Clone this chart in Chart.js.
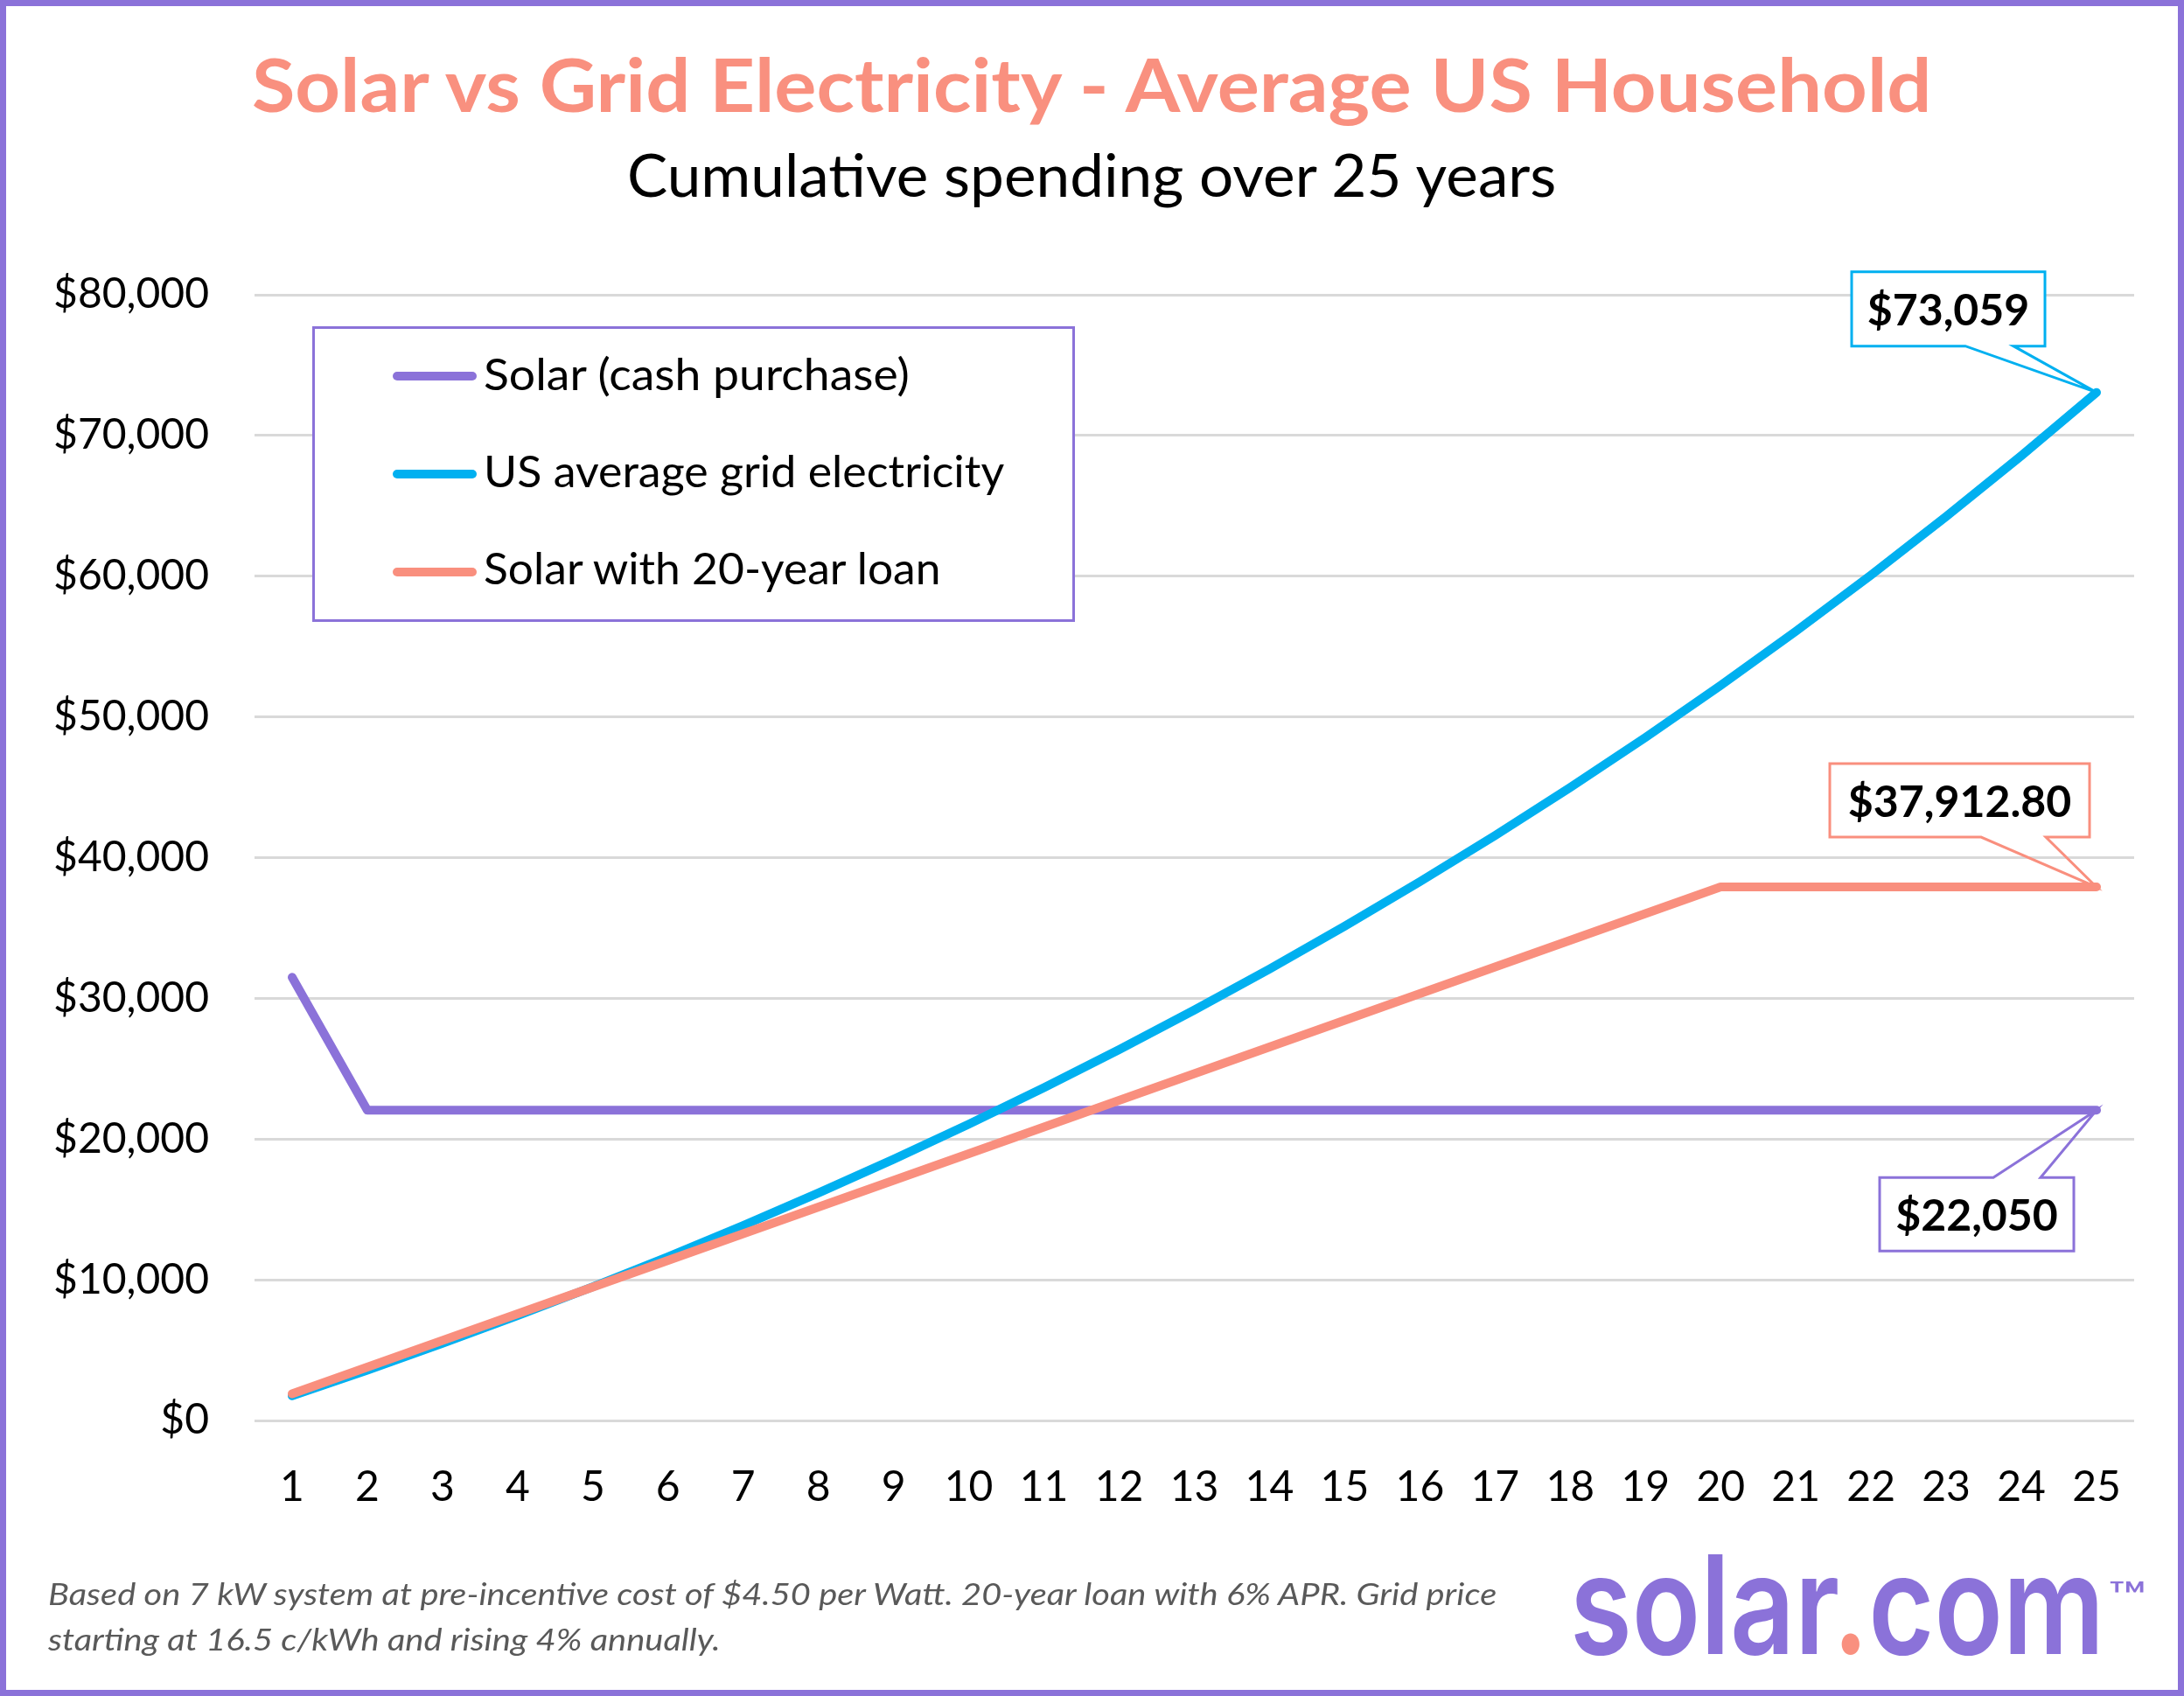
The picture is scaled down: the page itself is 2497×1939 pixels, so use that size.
<!DOCTYPE html>
<html>
<head>
<meta charset="utf-8">
<title>Solar vs Grid Electricity - Average US Household</title>
<script src="https://cdn.jsdelivr.net/npm/chart.js@4.4.1/dist/chart.umd.min.js"></script>
<style>
  html, body { margin: 0; padding: 0; background: #fff; }
  #page { position: relative; width: 2497px; height: 1939px; overflow: hidden; background: #fff; font-family: Lato, "Open Sans", sans-serif; }
  #chart { position: absolute; left: 0; top: 0; }
  #frame { position: absolute; left: 0; top: 0; width: 2497px; height: 1939px; box-sizing: border-box; border: 7px solid #8B72D9; pointer-events: none; }
  .txt { position: absolute; left: 0; top: 0; white-space: nowrap; line-height: 1.2; transform-origin: 0 0; }
  #legendBox { position: absolute; left: 357px; top: 373px; width: 872px; height: 338px; box-sizing: border-box; border: 3px solid #8B72D9; background: #fff; }
  .swatch { position: absolute; left: 449px; width: 96px; height: 10px; border-radius: 5px; }
</style>
</head>
<body>
<div id="page">
  <canvas id="chart" width="2497" height="1939"></canvas>
  <div id="legendBox"></div>
  <div class="txt" id="title" style="font-weight:700;font-size:85px;color:#F9907F;">Solar vs Grid Electricity - Average US Household</div>
  <div class="txt" id="subtitle" style="font-size:67px;color:#000;">Cumulative spending over 25 years</div>
  <div class="txt" id="note1" style="font-style:italic;font-size:35px;color:#595959;">Based on 7 kW system at pre-incentive cost of $4.50 per Watt. 20-year loan with 6% APR. Grid price</div>
  <div class="txt" id="note2" style="font-style:italic;font-size:35px;color:#595959;">starting at 16.5 c/kWh and rising 4% annually.</div>
  <div class="txt" id="logo" style="font-family:Inter, Roboto, sans-serif;font-weight:600;font-size:157px;color:#8B72D9;">solar<span style="color:#F9907F;">.</span>com</div>
  <div class="txt" id="tm" style="font-family:Inter, Roboto, sans-serif;font-weight:500;font-size:48px;color:#8B72D9;">™</div>
  <div id="frame"></div>
</div>
<script>
// --- data ---
const years = ['1', '2', '3', '4', '5', '6', '7', '8', '9', '10', '11', '12', '13',
               '14', '15', '16', '17', '18', '19', '20', '21', '22', '23', '24', '25'];

const seriesNames = ['Solar (cash purchase)', 'US average grid electricity', 'Solar with 20-year loan'];

// cash purchase: full price in year 1, after tax credit from year 2
const solarCash = [31500, 22050, 22050, 22050, 22050, 22050, 22050, 22050, 22050, 22050,
                   22050, 22050, 22050, 22050, 22050, 22050, 22050, 22050, 22050, 22050,
                   22050, 22050, 22050, 22050, 22050];

const gridCost = [1754, 3579, 5476, 7449, 9502, 11636, 13856, 16164, 18565, 21062,
                  23659, 26360, 29168, 32089, 35127, 38287, 41572, 44989, 48543, 52239,
                  56083, 60081, 64238, 68562, 73059];

const solarLoan = [1895.64, 3791.28, 5686.92, 7582.56, 9478.20, 11373.84, 13269.48, 15165.12,
                   17060.76, 18956.40, 20852.04, 22747.68, 24643.32, 26538.96, 28434.60,
                   30330.24, 32225.88, 34121.52, 36017.16, 37912.80, 37912.80, 37912.80,
                   37912.80, 37912.80, 37912.80];

const yMin = 0, yMax = 80000, yStep = 10000;

const colors = ['#8B72D9', '#00B0F0', '#F98F7E'];

// callouts at the last point of each series: box and tail offsets from that point
const callouts = [
    { dataset: 1, box: [-280, -138, -59, -53], tail: [-150, -95], side: 'bottom', decimals: 0 },
    { dataset: 2, box: [-305, -141, -8, -57], tail: [-132, -58], side: 'bottom', decimals: 2 },
    { dataset: 0, box: [-248, 77, -26, 161], tail: [-118, -64], side: 'top', decimals: 0 }
];

function money(v, decimals) {
    return '$' + v.toLocaleString('en-US', { minimumFractionDigits: decimals, maximumFractionDigits: decimals });
}

const calloutPlugin = {
    id: 'callouts',
    afterDatasetsDraw(chart) {
        const ctx = chart.ctx;
        const xs = chart.scales.x, ys = chart.scales.y;
        callouts.forEach(c => {
            const ds = chart.data.datasets[c.dataset];
            const i = ds.data.length - 1;
            const px = xs.getPixelForValue(i);
            const py = ys.getPixelForValue(ds.data[i]);
            const l = px + c.box[0], t = py + c.box[1], r = px + c.box[2], b = py + c.box[3];
            const t1 = px + c.tail[0], t2 = px + c.tail[1];

            ctx.save();
            ctx.fillStyle = '#fff';
            ctx.fillRect(l, t, r - l, b - t);

            ctx.beginPath();
            if (c.side === 'bottom') {
                ctx.moveTo(l, t);
                ctx.lineTo(r, t);
                ctx.lineTo(r, b);
                ctx.lineTo(t2, b);
                ctx.lineTo(px, py);
                ctx.lineTo(t1, b);
                ctx.lineTo(l, b);
            } else {
                ctx.moveTo(l, t);
                ctx.lineTo(t1, t);
                ctx.lineTo(px, py);
                ctx.lineTo(t2, t);
                ctx.lineTo(r, t);
                ctx.lineTo(r, b);
                ctx.lineTo(l, b);
            }
            ctx.closePath();
            ctx.strokeStyle = ds.borderColor;
            ctx.lineWidth = 3;
            ctx.lineJoin = 'miter';
            ctx.stroke();

            ctx.fillStyle = '#000';
            ctx.font = 'bold 50px Lato, sans-serif';
            ctx.textAlign = 'center';
            ctx.textBaseline = 'alphabetic';
            ctx.fillText(money(ds.data[i], c.decimals), (l + r) / 2, t + 61);
            ctx.restore();
        });
    }
};

const seriesData = [solarCash, gridCost, solarLoan];
const drawOrder = [3, 2, 1];

const chart = new Chart(document.getElementById('chart'), {
    type: 'line',
    data: {
        labels: years,
        datasets: seriesData.map((d, k) => ({
            label: seriesNames[k],
            data: d,
            borderColor: colors[k],
            backgroundColor: colors[k],
            borderWidth: 10,
            borderCapStyle: 'round',
            borderJoinStyle: 'round',
            pointRadius: 0,
            tension: 0,
            fill: false,
            order: drawOrder[k]
        }))
    },
    options: {
        responsive: false,
        devicePixelRatio: 1,
        animation: false,
        layout: { padding: { left: 0, top: 337, right: 57, bottom: 195 } },
        plugins: {
            legend: { display: false },
            title: { display: false },
            tooltip: { enabled: false }
        },
        scales: {
            x: {
                type: 'category',
                offset: true,
                grid: { display: false },
                border: { display: false },
                ticks: { color: '#000', font: { family: 'Lato', size: 48 }, padding: 40, maxRotation: 0, autoSkip: false },
                afterFit: s => { s.height = 120; }
            },
            y: {
                min: yMin,
                max: yMax,
                grid: { color: '#D9D9D9', lineWidth: 3, drawTicks: false },
                border: { display: false },
                ticks: {
                    stepSize: yStep,
                    color: '#000',
                    padding: 52,
                    font: { family: 'Lato', size: 48 },
                    callback: v => money(v, 0)
                },
                afterFit: s => { s.width = 291; }
            }
        }
    },
    plugins: [calloutPlugin]
});

// legend built from the chart's datasets
const page = document.getElementById('page');
const legendRows = [430, 542, 654];
const legendBase = [446, 557, 668];
const legendWidths = [487, 595, 523];
const textSpecs = [
    ['title', 288, 1920, 128],
    ['subtitle', 717, 1062, 225],
    ['note1', 55, 1656, 1835],
    ['note2', 55, 769, 1887],
    ['logo', 1795, 611, 1891],
    ['tm', 2410, 44, 1843]
];
chart.data.datasets.forEach((ds, k) => {
    const sw = document.createElement('div');
    sw.className = 'swatch';
    sw.style.top = (legendRows[k] - 5) + 'px';
    sw.style.background = ds.borderColor;
    page.appendChild(sw);
    const tx = document.createElement('div');
    tx.className = 'txt';
    tx.id = 'leg' + k;
    tx.style.fontSize = '50px';
    tx.style.color = '#000';
    tx.textContent = ds.label;
    page.insertBefore(tx, document.getElementById('frame'));
    textSpecs.push([tx.id, 553, legendWidths[k], legendBase[k]]);
});

// put each text on its baseline and squeeze it to the reference width
function place(id, left, width, baseline) {
    const el = document.getElementById(id);
    const probe = document.createElement('span');
    probe.style.cssText = 'display:inline-block;width:0;height:0;vertical-align:baseline;';
    el.appendChild(probe);
    const base = probe.offsetTop;
    el.removeChild(probe);
    const natural = el.offsetWidth;
    el.style.left = left + 'px';
    el.style.top = (baseline - base) + 'px';
    el.style.transform = 'scaleX(' + (width / natural) + ')';
}
textSpecs.forEach(s => place(s[0], s[1], s[2], s[3]));
</script>
</body>
</html>
